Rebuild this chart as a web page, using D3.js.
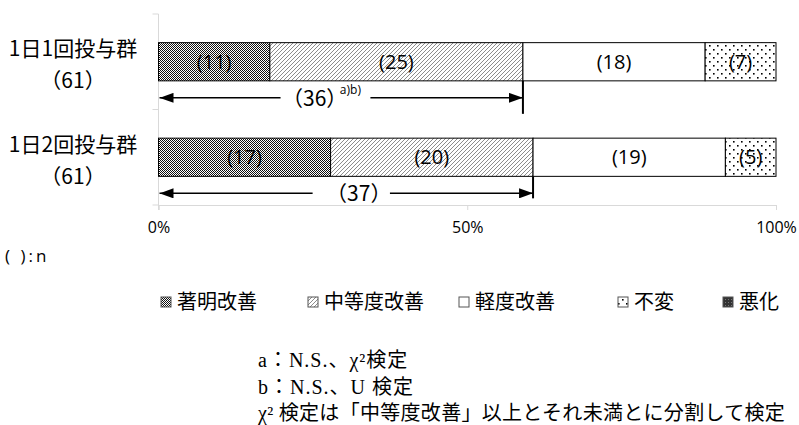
<!DOCTYPE html>
<html>
<head>
<meta charset="utf-8">
<script src="https://cdn.jsdelivr.net/npm/d3@7"></script>
<style>
  body { margin: 0; background: #fff; }
  svg { display: block; }
  .halt { font-feature-settings: "halt" 1; }
</style>
</head>
<body>
<svg id="chart" width="799" height="425"></svg>
<script>
// data (counts per group, n=61 each)
const groups = ["1日1回投与群", "1日2回投与群"];
const groupN = [61, 61];
const categories = ["著明改善", "中等度改善", "軽度改善", "不変", "悪化"];
const onceDaily = [11, 25, 18, 7, 0];
const twiceDaily = [17, 20, 19, 5, 0];
const arrowLabels = ["（36）", "（37）"];
const arrowNotes = ["a)b)", ""];
const percentTicks = [0, 50, 100];
const footnotes = ["a：N.S.、χ²検定", "b：N.S.、U 検定", "χ² 検定は「中等度改善」以上とそれ未満とに分割して検定"];

// layout only
const arrowTextShift = [-14, 13];
const legendX = [160, 307, 458, 617, 722];

const svg = d3.select("#chart");
const jp = "'Noto Sans CJK JP', sans-serif";
const latin = "'Open Sans', 'Noto Sans CJK JP', sans-serif";
const axisGray = "#d9d9d9";

const x = d3.scaleLinear().domain([0, 100]).range([158.5, 776]);
const y = d3.scaleBand().domain(groups).range([14, 205]).paddingInner(0.6).paddingOuter(0.3);

// patterns
const defs = svg.append("defs");
let p = defs.append("pattern").attr("id", "pat0").attr("patternUnits", "userSpaceOnUse").attr("width", 2).attr("height", 2);
p.append("rect").attr("width", 2).attr("height", 2).attr("fill", "#fff");
p.append("rect").attr("width", 1).attr("height", 1).attr("fill", "#111");
p.append("rect").attr("x", 1).attr("y", 1).attr("width", 1).attr("height", 1).attr("fill", "#111");

p = defs.append("pattern").attr("id", "pat1").attr("patternUnits", "userSpaceOnUse").attr("width", 4).attr("height", 4);
p.append("rect").attr("width", 4).attr("height", 4).attr("fill", "#fff");
p.append("path").attr("d", "M-1,5 L5,-1 M-1,1 L1,-1 M3,5 L5,3").attr("stroke", "#8c8c8c").attr("stroke-width", 1);

defs.append("pattern").attr("id", "pat2").attr("patternUnits", "userSpaceOnUse").attr("width", 4).attr("height", 4)
  .append("rect").attr("width", 4).attr("height", 4).attr("fill", "#fff");

p = defs.append("pattern").attr("id", "pat3").attr("patternUnits", "userSpaceOnUse").attr("width", 8).attr("height", 8);
p.append("rect").attr("width", 8).attr("height", 8).attr("fill", "#fff");
p.append("rect").attr("x", 1).attr("y", 1).attr("width", 1.6).attr("height", 1.6).attr("fill", "#000");
p.append("rect").attr("x", 5).attr("y", 5).attr("width", 1.6).attr("height", 1.6).attr("fill", "#000");

p = defs.append("pattern").attr("id", "pat4").attr("patternUnits", "userSpaceOnUse").attr("width", 3).attr("height", 3);
p.append("rect").attr("width", 3).attr("height", 3).attr("fill", "#333");
p.append("rect").attr("width", 1).attr("height", 1).attr("fill", "#777");

// arrowheads
const mk = defs.append("marker").attr("id", "head").attr("viewBox", "0 0 14 10")
  .attr("refX", 14).attr("refY", 5).attr("markerWidth", 14).attr("markerHeight", 10)
  .attr("markerUnits", "userSpaceOnUse").attr("orient", "auto-start-reverse");
mk.append("path").attr("d", "M0,0 L14,5 L0,10 Z").attr("fill", "#000");

// axes
svg.append("line").attr("x1", x(0)).attr("x2", x(0)).attr("y1", 14).attr("y2", 210)
  .attr("stroke", axisGray);
svg.append("g").selectAll("line").data([14, 109.5, 205]).join("line")
  .attr("x1", x(0) - 6).attr("x2", x(0)).attr("y1", d => d).attr("y2", d => d)
  .attr("stroke", axisGray);

const xAxis = svg.append("g").attr("transform", "translate(0,205)")
  .call(d3.axisBottom(x).tickValues(percentTicks).tickSize(5).tickFormat(d => d + "%"));
xAxis.select(".domain").attr("stroke", axisGray);
xAxis.selectAll(".tick line").attr("stroke", axisGray);
xAxis.selectAll("text").attr("font-family", latin).attr("font-size", 16)
  .attr("fill", "#000").attr("dy", 20);

// bars
const rows = [onceDaily, twiceDaily];
rows.forEach((vals, gi) => {
  const g = groups[gi];
  const n = groupN[gi];
  let cum = 0;
  const segs = vals.map((v, ci) => {
    const s = { ci, v, start: cum / n * 100, end: (cum + v) / n * 100 };
    cum += v;
    return s;
  }).filter(s => s.v > 0);

  const bar = svg.append("g");
  bar.selectAll("rect").data(segs).join("rect")
    .attr("x", s => x(s.start)).attr("width", s => x(s.end) - x(s.start))
    .attr("y", y(g)).attr("height", y.bandwidth())
    .attr("fill", s => `url(#pat${s.ci})`)
    .attr("stroke", "#000").attr("stroke-width", 1);
  bar.selectAll("text").data(segs).join("text")
    .attr("x", s => (x(s.start) + x(s.end)) / 2)
    .attr("y", y(g) + y.bandwidth() / 2)
    .attr("dy", "0.36em").attr("text-anchor", "middle")
    .attr("font-family", latin).attr("font-size", 20)
    .text(s => `(${s.v})`);

  // group label
  const cy = y(g) + y.bandwidth() / 2;
  svg.append("text").attr("x", 73).attr("y", cy - 13).attr("dy", "0.35em")
    .attr("text-anchor", "middle").attr("font-family", jp).attr("font-size", 21)
    .text(g);
  svg.append("text").attr("x", 73).attr("y", cy + 19).attr("dy", "0.35em")
    .attr("text-anchor", "middle").attr("font-family", jp).attr("font-size", 21)
    .text(`（${n}）`);

  // arrow over 著明改善 + 中等度改善
  const upto = (vals[0] + vals[1]) / n * 100;
  const ay = y(g) + y.bandwidth() + 17;
  const tx = x(upto / 2) + arrowTextShift[gi] - (arrowNotes[gi] ? 12 : 0);
  const t = svg.append("text").attr("class", "halt").attr("x", tx).attr("y", ay).attr("dy", "0.38em")
    .attr("text-anchor", "middle").attr("font-family", jp).attr("font-size", 21)
    .text(arrowLabels[gi]);
  let bb = t.node().getBBox();
  let right = bb.x + bb.width;
  if (arrowNotes[gi]) {
    const sup = svg.append("text").attr("x", right + 3).attr("y", ay - 4)
      .attr("font-family", latin).attr("font-size", 12).text(arrowNotes[gi]);
    const sb = sup.node().getBBox();
    right = sb.x + sb.width;
  }
  svg.append("line").attr("x1", x(upto)).attr("x2", x(upto))
    .attr("y1", y(g) + y.bandwidth()).attr("y2", ay + 16 - gi * 11)
    .attr("stroke", "#000").attr("stroke-width", 2);
  svg.append("line").attr("x1", bb.x - 12 - gi * 12).attr("x2", x(0) + 1).attr("y1", ay).attr("y2", ay)
    .attr("stroke", "#000").attr("stroke-width", 1.5).attr("marker-end", "url(#head)");
  svg.append("line").attr("x1", right + 9).attr("x2", x(upto)).attr("y1", ay).attr("y2", ay)
    .attr("stroke", "#000").attr("stroke-width", 1.5).attr("marker-end", "url(#head)");
});

svg.append("text").attr("x", 5).attr("y", 256).attr("dy", "0.35em")
  .attr("font-family", latin).attr("font-size", 17).attr("letter-spacing", 3).text("( ):n");

// legend
const legend = svg.append("g").selectAll("g").data(categories).join("g")
  .attr("transform", (d, i) => `translate(${legendX[i]},302)`);
legend.append("rect").attr("x", 1).attr("y", -5).attr("width", 10).attr("height", 10)
  .attr("fill", (d, i) => `url(#pat${i})`).attr("stroke", "#555").attr("stroke-width", 1);
legend.append("text").attr("x", 17).attr("dy", "0.36em")
  .attr("font-family", jp).attr("font-size", 20).text(d => d);

// footnotes (last line kept just inside the right edge)
svg.append("g").selectAll("text").data(footnotes).join("text")
  .attr("x", 258).attr("y", (d, i) => 360 + i * 26.5).attr("dy", "0.35em")
  .attr("font-family", "'Liberation Serif', 'Noto Sans CJK JP', serif").attr("font-size", 20)
  .attr("letter-spacing", (d, i) => i === 2 ? 0.3 : 1)
  .text(d => d);
</script>
</body>
</html>
